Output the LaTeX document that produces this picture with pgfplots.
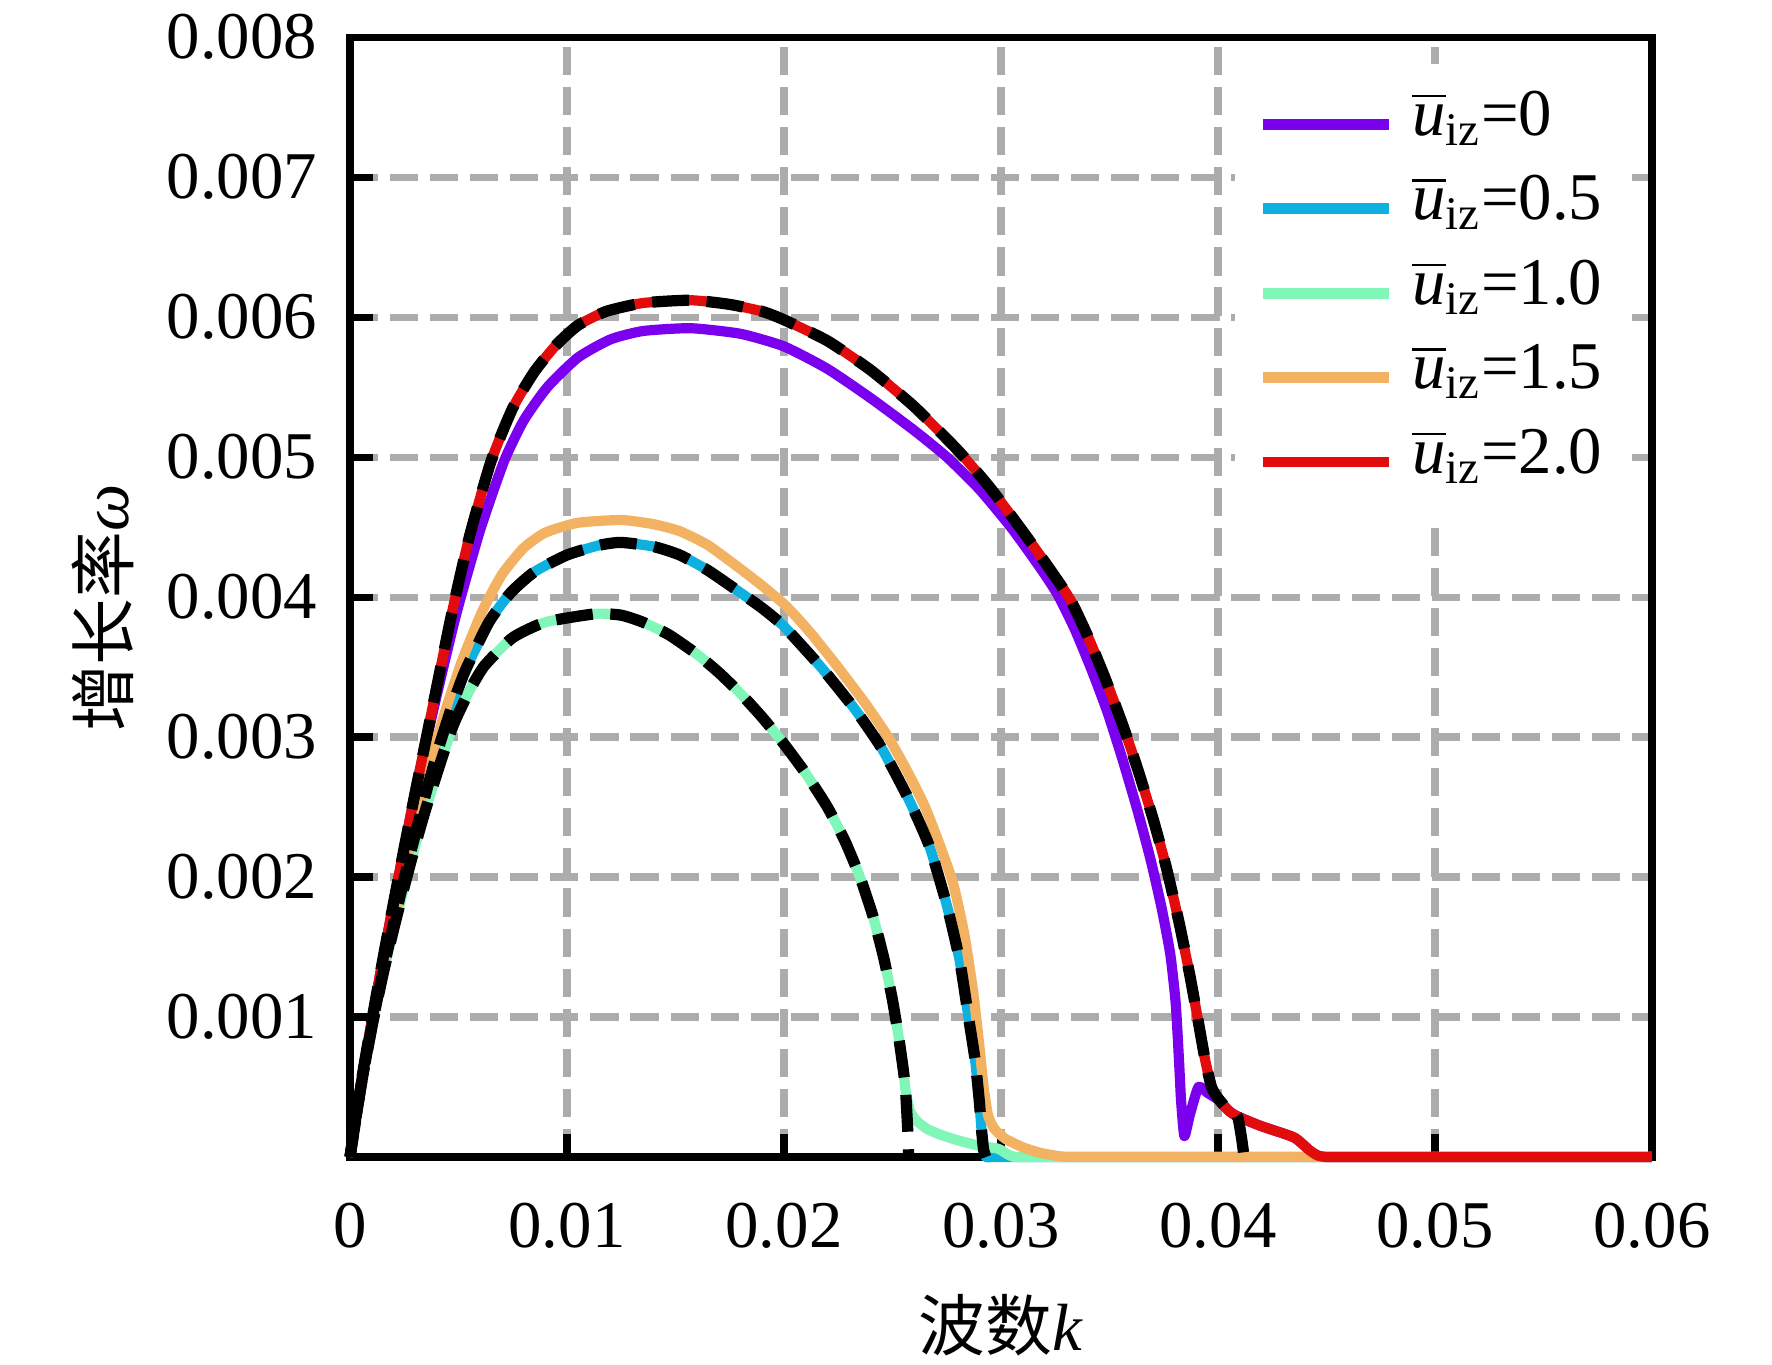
\documentclass[border=0pt]{standalone}
\usepackage{amsmath}
\usepackage{pgfplots}
\pgfplotsset{compat=1.18}
\usepackage{fontspec}
\setmainfont{Liberation Serif}
\newfontfamily\cjk{Noto Sans CJK SC}
\definecolor{cpurple}{RGB}{122,0,238}
\definecolor{cblue}{RGB}{14,176,224}
\definecolor{cgreen}{RGB}{128,247,184}
\definecolor{corange}{RGB}{242,178,98}
\definecolor{cred}{RGB}{226,12,12}
\definecolor{gridgray}{RGB}{172,172,172}
\begin{document}
\begin{tikzpicture}
\fontsize{19}{23}\selectfont
\path[use as bounding box] (0,0) rectangle (17.72cm,13.64cm);
\begin{axis}[
 at={(3.5cm,2.07cm)}, anchor=south west,
 scale only axis, width=13.02cm, height=11.2cm,
 xmin=0, xmax=0.06, ymin=0, ymax=0.008,
 xtick={0,0.01,0.02,0.03,0.04,0.05,0.06},
 ytick={0.001,0.002,0.003,0.004,0.005,0.006,0.007,0.008},
 scaled x ticks=false, scaled y ticks=false,
 /pgf/number format/assume math mode=true,
 xticklabel style={/pgf/number format/fixed, /pgf/number format/precision=2, yshift=-0.23cm},
 yticklabel style={/pgf/number format/fixed, /pgf/number format/precision=3, /pgf/number format/fixed zerofill, xshift=-0.1cm},
 tick align=inside, xtick pos=left, ytick pos=left,
 major tick length=0.23cm,
 tick style={black, line width=2pt},
 axis line style={line width=2pt},
 grid=major,
 major grid style={draw=gridgray, line width=2pt, dash pattern=on 8pt off 3.4pt},
 xlabel={{\cjk 波数}\textit{k}},
 ylabel={{\cjk 增长率}\textit{ω}},
 xlabel style={at={(axis description cs:0.5,-0.15)}, anchor=center},
 ylabel style={at={(axis description cs:-0.19,0.49)}, anchor=center},
 legend style={at={(axis cs:0.041,0.008)}, anchor=north west, xshift=-0.05cm, yshift=-0.26cm, draw=none, fill=white,
   inner xsep=0.22cm, inner ysep=0.217cm, row sep=0.064cm, column sep=0.18cm,
   nodes={inner sep=0pt, text height=0.5cm, text depth=0.28cm}},
 legend cell align=left,
 legend image code/.code={\draw[#1, line width=3.1pt, solid] (0cm,0cm) -- (1.26cm,0cm);},
 clip=false,
 every axis plot/.append style={line join=round, smooth, tension=0.35},
]
% u=0 purple
\addplot[cpurple, line width=2.9pt] coordinates {
(0,0) (0.0005,0.00052) (0.001,0.00097) (0.0015,0.0014) (0.002,0.00181) (0.0025,0.00221) (0.003,0.0026)
(0.0035,0.00296) (0.004,0.0033) (0.0049,0.00388) (0.006,0.00448) (0.0071,0.00497) (0.008,0.00526)
(0.0091,0.0055) (0.0105,0.00571) (0.012,0.00584) (0.0135,0.0059) (0.0157,0.00592) (0.018,0.00588)
(0.020,0.00579) (0.022,0.00563) (0.024,0.00542) (0.026,0.00519) (0.0275,0.0050) (0.029,0.00477)
(0.0305,0.00449) (0.0318,0.00421) (0.0326,0.00402) (0.0334,0.00377) (0.0342,0.00347) (0.0349,0.00318)
(0.0356,0.00284) (0.0363,0.00247) (0.0369,0.00212) (0.0374,0.00178) (0.0378,0.00145) (0.03805,0.0011)
(0.0382,0.0007) (0.0383,0.0004) (0.03845,0.00015) (0.0387,0.0003) (0.0391,0.0005) (0.0395,0.00046)
(0.0400,0.00041) (0.0405,0.00033) (0.0409,0.00029) (0.0420,0.00022) (0.0435,0.00014) (0.0442,0.00005)
(0.0446,0.00001) (0.045,0) (0.0457,0) (0.047,0) (0.050,0) (0.054,0) (0.06,0)};
\addlegendentry{$\overline{\textit{u}}_{\text{iz}}$=0}
% u=0.5 blue
\addplot[cblue, line width=2.9pt] coordinates {
(0,0) (0.0005,0.0005) (0.001,0.00093) (0.0015,0.00131) (0.002,0.00166) (0.0025,0.00199) (0.003,0.0023)
(0.0035,0.0026) (0.0041,0.00293) (0.0047,0.00322) (0.0053,0.00347) (0.0064,0.00382) (0.0074,0.00403)
(0.0085,0.00418) (0.010,0.0043) (0.0115,0.00437) (0.0125,0.00439) (0.014,0.00436) (0.0152,0.0043)
(0.0165,0.00419) (0.018,0.00403) (0.019,0.00392) (0.020,0.00379) (0.0217,0.0035) (0.02326,0.0032)
(0.0245,0.00292) (0.0257,0.00257) (0.0267,0.00222) (0.0275,0.0018) (0.0281,0.0014) (0.0285,0.001)
(0.0288,0.0007) (0.029,0.0004) (0.0291,0.0002) (0.0292,0.00005) (0.0293,0) (0.0296,0) (0.0302,0)
(0.031,0) (0.033,0) (0.036,0) (0.040,0) (0.045,0) (0.051,0) (0.06,0)};
\addlegendentry{$\overline{\textit{u}}_{\text{iz}}$=0.5}
% u=1.0 green
\addplot[cgreen, line width=2.9pt] coordinates {
(0,0) (0.0005,0.0005) (0.001,0.00092) (0.0015,0.00129) (0.002,0.00162) (0.0025,0.00193) (0.003,0.00222)
(0.0035,0.00249) (0.0043,0.00288) (0.0048,0.0031) (0.0055,0.00333) (0.0062,0.00351) (0.0075,0.00371)
(0.009,0.00382) (0.0113,0.00388) (0.0125,0.00387) (0.0135,0.00382) (0.0147,0.00373) (0.016,0.00359)
(0.017,0.00346) (0.018,0.00331) (0.019,0.00314) (0.020,0.00295) (0.021,0.00274) (0.022,0.0025)
(0.0228,0.00226) (0.0235,0.0020) (0.0241,0.00172) (0.0246,0.00142) (0.025,0.00112) (0.0253,0.00084)
(0.0255,0.00062) (0.0256,0.00048) (0.0258,0.00033) (0.0261,0.00026) (0.0266,0.0002) (0.0272,0.00016)
(0.028,0.00012) (0.029,0.00008) (0.02985,0.00006) (0.0303,0.00002) (0.0306,0) (0.031,0) (0.032,0)
(0.034,0) (0.037,0) (0.041,0) (0.046,0) (0.052,0) (0.06,0)};
\addlegendentry{$\overline{\textit{u}}_{\text{iz}}$=1.0}
% u=1.5 orange
\addplot[corange, line width=2.9pt] coordinates {
(0,0) (0.0005,0.0005) (0.001,0.00094) (0.0015,0.00133) (0.002,0.0017) (0.0025,0.00205) (0.003,0.00238)
(0.0035,0.00269) (0.0039,0.00293) (0.0045,0.00324) (0.0052,0.00356) (0.0061,0.0039) (0.007,0.00416)
(0.008,0.00435) (0.009,0.00446) (0.0105,0.00453) (0.0125,0.00455) (0.014,0.00452) (0.0152,0.00447)
(0.0165,0.00437) (0.018,0.0042) (0.019,0.00408) (0.020,0.00395) (0.0205,0.00387) (0.0213,0.00373)
(0.02248,0.0035) (0.0237,0.00325) (0.0248,0.0030) (0.0257,0.00275) (0.0265,0.0025) (0.0272,0.00222)
(0.0278,0.00195) (0.0283,0.0016) (0.0287,0.0012) (0.029,0.0008) (0.0292,0.0005) (0.0294,0.0003)
(0.0297,0.0002) (0.0302,0.00013) (0.031,0.00007) (0.0318,0.00003) (0.0325,0.00001) (0.033,0) (0.034,0)
(0.036,0) (0.039,0) (0.043,0) (0.048,0) (0.054,0) (0.06,0)};
\addlegendentry{$\overline{\textit{u}}_{\text{iz}}$=1.5}
% u=2.0 red
\addplot[cred, line width=2.9pt] coordinates {
(0,0) (0.0005,0.00052) (0.001,0.00097) (0.0015,0.0014) (0.002,0.00181) (0.0025,0.00221) (0.003,0.0026)
(0.0035,0.00298) (0.004,0.00336) (0.0047,0.00389) (0.0055,0.00443) (0.0065,0.00497) (0.0075,0.00535)
(0.0085,0.00561) (0.0095,0.0058) (0.0105,0.00594) (0.0118,0.00604) (0.0135,0.0061) (0.0157,0.00612)
(0.0175,0.00609) (0.019,0.00604) (0.020,0.00598) (0.022,0.00583) (0.024,0.00562) (0.026,0.00536)
(0.028,0.00505) (0.0295,0.00478) (0.031,0.00447) (0.0322,0.00421) (0.0332,0.00398) (0.034,0.00372)
(0.0348,0.00342) (0.0356,0.00309) (0.0363,0.00277) (0.037,0.00242) (0.0376,0.00208) (0.0382,0.00168)
(0.0387,0.0013) (0.0391,0.00096) (0.0394,0.0007) (0.0397,0.0005) (0.0400,0.00042) (0.0405,0.00033)
(0.0409,0.00029) (0.0420,0.00022) (0.0435,0.00014) (0.0442,0.00005) (0.0446,0.00001) (0.045,0)
(0.0457,0) (0.047,0) (0.050,0) (0.054,0) (0.06,0)};
\addlegendentry{$\overline{\textit{u}}_{\text{iz}}$=2.0}
% black dashed overlays
\addplot[black, line width=3.2pt, dash pattern=on 10.5pt off 5pt, forget plot] coordinates {
(0,0) (0.0005,0.0005) (0.001,0.00092) (0.0015,0.00129) (0.002,0.00162) (0.0025,0.00193) (0.003,0.00222)
(0.0035,0.00249) (0.0043,0.00288) (0.0048,0.0031) (0.0055,0.00333) (0.0062,0.00351) (0.0075,0.00371)
(0.009,0.00382) (0.0113,0.00388) (0.0125,0.00387) (0.0135,0.00382) (0.0147,0.00373) (0.016,0.00359)
(0.017,0.00346) (0.018,0.00331) (0.019,0.00314) (0.020,0.00295) (0.021,0.00274) (0.022,0.0025)
(0.0228,0.00226) (0.0235,0.0020) (0.0241,0.00172) (0.0246,0.00142) (0.025,0.00112) (0.0253,0.00084)
(0.0255,0.00062) (0.0256,0.00048) (0.0257,0.0002) (0.02575,0)};
\addplot[black, line width=3.2pt, dash pattern=on 10.5pt off 5pt, dash phase=4pt, forget plot] coordinates {
(0,0) (0.0005,0.0005) (0.001,0.00093) (0.0015,0.00131) (0.002,0.00166) (0.0025,0.00199) (0.003,0.0023)
(0.0035,0.0026) (0.0041,0.00293) (0.0047,0.00322) (0.0053,0.00347) (0.0064,0.00382) (0.0074,0.00403)
(0.0085,0.00418) (0.010,0.0043) (0.0115,0.00437) (0.0125,0.00439) (0.014,0.00436) (0.0152,0.0043)
(0.0165,0.00419) (0.018,0.00403) (0.019,0.00392) (0.020,0.00379) (0.0217,0.0035) (0.02326,0.0032)
(0.0245,0.00292) (0.0257,0.00257) (0.0267,0.00222) (0.0275,0.0018) (0.0281,0.0014) (0.0285,0.001)
(0.0288,0.0007) (0.029,0.0004) (0.0291,0.0002) (0.0292,0.00005) (0.0293,0)};
\addplot[black, line width=3.2pt, dash pattern=on 10.5pt off 5pt, dash phase=8pt, forget plot] coordinates {
(0,0) (0.0005,0.00052) (0.001,0.00097) (0.0015,0.0014) (0.002,0.00181) (0.0025,0.00221) (0.003,0.0026)
(0.0035,0.00298) (0.004,0.00336) (0.0047,0.00389) (0.0055,0.00443) (0.0065,0.00497) (0.0075,0.00535)
(0.0085,0.00561) (0.0095,0.0058) (0.0105,0.00594) (0.0118,0.00604) (0.0135,0.0061) (0.0157,0.00612)
(0.0175,0.00609) (0.019,0.00604) (0.020,0.00598) (0.022,0.00583) (0.024,0.00562) (0.026,0.00536)
(0.028,0.00505) (0.0295,0.00478) (0.031,0.00447) (0.0322,0.00421) (0.0332,0.00398) (0.034,0.00372)
(0.0348,0.00342) (0.0356,0.00309) (0.0363,0.00277) (0.037,0.00242) (0.0376,0.00208) (0.0382,0.00168)
(0.0387,0.0013) (0.0391,0.00096) (0.0394,0.0007) (0.0397,0.0005) (0.0400,0.00042) (0.0405,0.00033)
(0.0409,0.00029) (0.0411,0.00012) (0.0412,0)};
\end{axis}
\end{tikzpicture}
\end{document}
